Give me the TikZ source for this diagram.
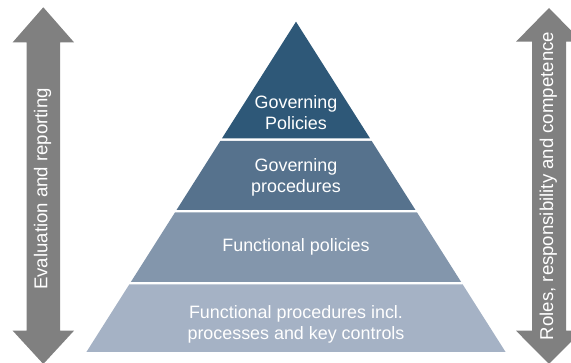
\documentclass[tikz,border=0pt]{standalone}
\usepackage{fontspec}
\setmainfont{Liberation Sans}
\definecolor{lay1}{HTML}{2E5878}
\definecolor{lay2}{HTML}{56728D}
\definecolor{lay3}{HTML}{8396AC}
\definecolor{lay4}{HTML}{A5B2C5}
\definecolor{arrowgray}{HTML}{808080}
\begin{document}
\begin{tikzpicture}[x=1pt,y=-1pt,
  layertext/.style={text=white,font=\fontsize{17.9}{21}\selectfont,align=center,inner sep=0pt,anchor=base},
  arrowtext/.style={text=white,font=\fontsize{18.6}{21}\selectfont,inner sep=0pt,rotate=90},
  bigarrow/.style={fill=arrowgray}]
\useasboundingbox (0,0) rectangle (571,363);
% pyramid layers
\fill[lay1] (296,21.7) -- (370.11,138.5) -- (221.89,138.5) -- cycle;
\fill[lay2] (220.30,141) -- (371.70,141) -- (415.48,210) -- (176.52,210) -- cycle;
\fill[lay3] (174.94,212.5) -- (417.06,212.5) -- (461.16,282) -- (130.84,282) -- cycle;
\fill[lay4] (129.25,284.5) -- (462.75,284.5) -- (505.58,352) -- (86.42,352) -- cycle;
% layer texts (base anchor = baseline of the last line)
\node[layertext] (gp) at (296,129.3) {Governing\\Policies};
\node[layertext] (gpr) at (296,192.5) {Governing\\procedures};
\node[layertext] (fp) at (296,251.7) {Functional policies};
\node[layertext] (fpr) at (296,340) {Functional procedures incl.\\processes and key controls};
% left arrow
\fill[bigarrow] (43.3,7.3) -- (74,42.3) -- (60,42.3) -- (60,330.7) -- (74,330.7) -- (43.3,364) -- (12.7,330.7) -- (26.7,330.7) -- (26.7,42.3) -- (12.7,42.3) -- cycle;
\node[arrowtext] (er) at (42.5,189) {Evaluation and reporting};
% right arrow
\fill[bigarrow] (549,8) -- (582,41.7) -- (566,41.7) -- (566,330.7) -- (582,330.7) -- (549,364) -- (516,330.7) -- (532,330.7) -- (532,41.7) -- (516,41.7) -- cycle;
\node[arrowtext] (rr) at (548.3,186) {Roles, responsibility and competence};
\end{tikzpicture}
\end{document}
